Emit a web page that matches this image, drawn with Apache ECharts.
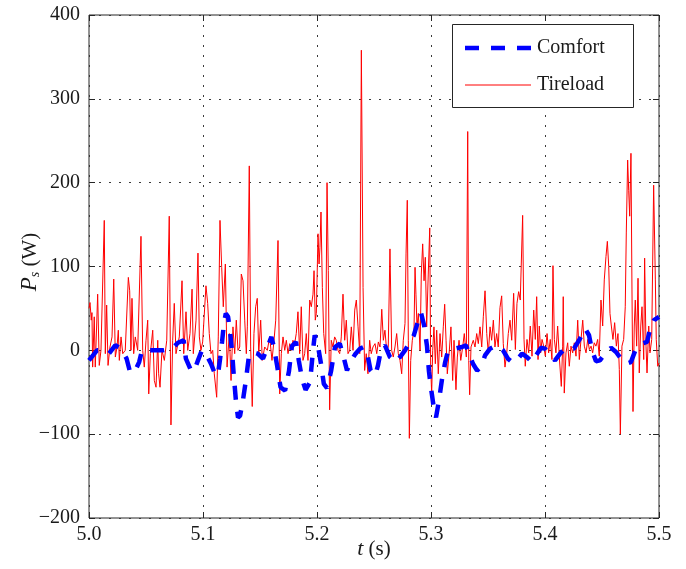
<!DOCTYPE html>
<html>
<head>
<meta charset="utf-8">
<script src="https://cdn.jsdelivr.net/npm/echarts@6/dist/echarts.min.js"></script>
<style>
  html, body { margin: 0; padding: 0; background: #fff; }
  #chart { width: 686px; height: 569px; }
</style>
</head>
<body>
<div id="chart"></div>
<script>
// Time origin of the window (s); sample times below are offsets in ms.
const tStart = 5.0;

// Comfort-oriented controller: suspension power P_s (W)
const comfortMs = [0, 7, 12, 17.5, 23, 28, 33, 36, 40, 44, 46.5, 65, 73, 78, 83, 85, 89.5, 92, 95.6, 99,
  102.6, 107, 110.5, 113, 115, 116.7, 118.4, 120, 122, 123.7, 125.4, 127, 129, 130.7, 132.5, 135, 137.7, 140, 143, 148,
  152.6, 156, 160, 162, 165, 168, 172, 175.4, 178, 181.6, 184, 187, 190, 193.9, 196.5, 198, 200.9, 203.5, 206, 208.8,
  212.3, 215.8, 220, 223.7, 226.3, 229, 233.3, 237.7, 241, 244.7, 247, 251, 253.5, 256, 259.6, 264, 269.3, 272.8, 277.2, 281.6,
  285, 288.6, 291.2, 293.9, 296.5, 298.2, 300, 302.6, 304.4, 307, 309.6, 312.3, 315, 321.1, 327.2, 330.7, 333.3, 336.8, 340.4, 343.9,
  347.4, 351.8, 357.9, 363.2, 367.5, 371.9, 376.3, 379.8, 384.2, 388.6, 392.1, 396.5, 400, 404.4, 408.8, 413.2, 418.4, 425.4,
  430.7, 435.1, 438.6, 441.2, 444.7, 448.2, 452.6, 457.9, 462.3, 466.7, 471.1, 475.4, 479.8, 485.1, 489.5, 492.1, 495.6, 500];
const comfortP = [-12, 0, 0, -4, 6, 2, -10, -26, -26, -14, 0, 0, 2, 9, 12, -10, -24, -25, -12, 0,
  -4, -16, -28, -30, -10, 10, 32, 44, 40, 22, 0, -30, -62, -80, -78, -60, -35, -10, -2, -4,
  -10, 2, 16, 5, -18, -44, -48, -25, 5, 10, -12, -35, -47, -38, 0, 18, 5, -16, -40, -45,
  -25, 4, 8, -10, -24, -15, -5, 2, 4, -8, -24, -30, -18, 0, 6, -8, -14, -8, 0, 10,
  18, 35, 45, 30, 5, -25, -45, -70, -80, -60, -35, -15, 0, 2, 4, 6, -4, -16, -24, -20,
  -6, 2, 6, 0, -10, -15, -10, -4, -8, -14, -6, 3, 2, -6, -12, -4, 3, 2,
  14, 26, 18, 0, -13, -12, -4, 3, -2, -10, -16, -14, 2, 8, 10, 25, 36, 40];

// Tireload-oriented controller: suspension power P_s (W)
const tireloadMs = [0, 0.9, 2.0, 2.6, 3.2, 4.6, 5.5, 7.6, 9.0, 10.5, 13.4, 14.3, 15.5, 16.7, 18.4, 20.2, 21.7, 23.1, 24.6, 25.7,
  26.6, 28.1, 29.6, 31.8, 34.5, 35.7, 36.8, 37.7, 39.2, 40.6, 42.7, 45.6, 47.1, 48.5, 50.0, 51.5, 52.4, 53.8, 55.9, 57.3,
  58.8, 60.3, 61.1, 62.3, 64.0, 66.1, 68.2, 70.4, 71.9, 73.4, 74.8, 76.3, 79.2, 81.6, 83.1, 85.1, 86.6, 88.6, 90.4, 91.5,
  93.9, 95.6, 96.8, 98.2, 99.7, 101.1, 102.6, 104.1, 105.5, 107.0, 108.5, 109.9, 112.0, 113.4, 114.9, 116.4, 117.8, 119.6, 121.1, 123.1,
  124.6, 126.3, 127.8, 129.2, 130.7, 132.2, 133.6, 135.1, 136.6, 138.0, 138.9, 140.6, 141.8, 143.2, 144.7, 146.2, 147.6, 148.9, 150.6, 152.0,
  154.1, 156.4, 158.5, 160.5, 162.3, 163.8, 165.8, 167.3, 168.7, 170.2, 171.7, 173.1, 174.6, 176.1, 177.5, 178.9, 180.4, 181.8, 183.3, 184.8,
  186.2, 187.7, 189.2, 190.6, 192.1, 193.6, 195.0, 196.5, 197.4, 198.5, 199.4, 200.9, 201.8, 202.6, 203.5, 204.7, 205.9, 207.6, 208.8, 209.9,
  211.1, 212.5, 214.0, 215.5, 216.9, 218.4, 219.9, 221.3, 222.8, 224.3, 225.7, 227.2, 228.7, 230.1, 231.6, 233.1, 234.5, 236.0, 237.5, 238.9,
  240.4, 241.8, 243.2, 244.7, 246.2, 247.6, 249.1, 250.9, 252.4, 253.8, 255.3, 256.8, 258.2, 259.6, 261.1, 262.5, 264.0, 265.5, 266.9, 268.4,
  269.9, 271.3, 272.8, 274.3, 275.7, 277.2, 278.1, 279.2, 280.1, 281.0, 282.2, 283.6, 285.1, 286.0, 286.8, 287.7, 288.9, 290.4, 291.5, 292.7,
  293.9, 295.0, 296.2, 297.6, 298.9, 299.7, 300.6, 301.5, 302.6, 303.8, 305.0, 306.4, 307.9, 309.4, 310.8, 312.0, 313.2, 314.3, 316.1, 317.5,
  319.0, 320.2, 321.9, 323.1, 324.6, 326.1, 327.8, 329.2, 331.0, 332.2, 333.1, 333.9, 335.1, 337.1, 338.6, 340.1, 341.5, 343.0, 344.5, 345.9,
  347.4, 348.9, 350.3, 351.8, 353.2, 354.7, 356.1, 357.6, 359.0, 360.5, 362.0, 363.4, 364.9, 366.4, 367.8, 369.3, 370.8, 372.5, 374.0, 375.4,
  376.9, 378.3, 380.4, 381.6, 382.7, 384.2, 385.7, 387.1, 388.6, 390.1, 391.5, 392.7, 393.9, 395.0, 396.2, 397.4, 398.9, 400.3, 401.8, 403.2,
  404.6, 406.1, 407.0, 408.2, 409.6, 411.1, 412.5, 414.3, 415.5, 416.0, 416.9, 418.4, 419.9, 421.3, 422.8, 424.3, 425.7, 427.2, 428.7, 430.1,
  431.6, 433.1, 434.5, 436.0, 437.5, 438.9, 440.4, 441.8, 443.2, 444.7, 446.2, 447.6, 449.1, 450.6, 452.0, 453.5, 454.7, 455.9, 457.0, 458.2,
  459.6, 461.1, 462.6, 464.0, 465.2, 466.1, 467.5, 469.0, 470.4, 471.3, 472.5, 473.4, 474.3, 475.4, 476.3, 477.2, 478.3, 479.2, 480.4, 481.6,
  482.7, 484.0, 485.1, 486.6, 487.4, 488.6, 489.5, 491.0, 492.1, 493.6, 495.3, 496.8, 497.6, 498.9, 500.0];
const tireloadP = [50, 57, 36, 45, -20, 40, -20, 67, -18, 0, 155, -4, 54, -18, 4, 16, 85, -8, 4, 24,
  -12, 16, -4, 0, 87, 71, 0, 62, -4, 16, 0, 136, 0, -20, 12, 36, -52, -4, 24, -36,
  -44, 12, -28, -44, 0, -12, 12, 160, -89, 12, 56, -4, 16, 83, -4, 46, 0, 20, 73, -4,
  36, 116, 16, 0, 10, 12, 77, 56, 20, -4, 0, -28, -56, 16, 155, 99, 52, 103, -20, 20,
  -36, 28, -4, 36, 0, 4, 91, 83, 36, -4, 28, 220, 4, -67, 20, 52, 62, -4, 36, -12,
  4, 0, 16, -12, 12, 36, 131, -52, -4, 16, 0, 12, -4, 8, 0, 12, 8, 20, 46, -4,
  52, -12, -4, 20, -12, 60, 52, 67, 95, 36, 44, 139, 103, 123, 165, 75, 20, -4, 200, 95,
  -71, 12, 4, 16, 12, 0, -4, 16, 67, 12, 36, -4, 0, 28, 0, 48, 60, 28, -4, 358,
  75, -24, -4, -28, 12, -4, 4, 8, -4, 10, 4, 49, 12, 24, 0, 4, 121, 0, -8, 4,
  20, -4, -12, -28, 12, 32, 115, 179, 12, -105, -12, 12, 24, 99, 67, 28, 44, 0, 91, 127,
  83, 111, 28, 91, 146, -20, -51, 0, 28, -16, 24, -28, 20, -8, 28, 55, 12, -28, 0, 28,
  -36, 12, -47, -8, 12, -12, 4, 20, -8, 261, -12, -53, 4, 12, 4, 20, 8, 28, 4, 40,
  71, 20, -4, 28, 12, 36, 4, 20, 4, 51, 65, 8, -20, -4, 20, 36, 12, 68, 1, 56,
  70, 60, 161, 13, -19, 13, -3, 29, -7, 48, 13, 64, -11, 29, -3, 13, 5, -7, 20, -3,
  13, -11, 101, 13, -3, 29, -7, -43, 5, 64, -51, -3, 9, -19, 5, -3, 9, -7, 36, -11,
  13, 36, 5, -3, 13, 1, 5, -3, 9, 5, 13, -7, 60, 29, 84, 112, 130, 100, 44, 29,
  13, 33, 5, 20, -23, -100, 5, 13, 52, 140, 227, 191, 160, 235, 72, -73, 29, 60, 5, 86,
  -27, 29, 52, -11, 110, 5, -27, 29, -3, 13, 197, 84, 13, -19, -15];

// Axis ranges and ticks
const tRange = [5.0, 5.5], tStep = 0.1;
const pRange = [-200, 400], pStep = 100;

// Series names shown in the legend
const seriesNames = ['Comfort', 'Tireload'];

const SERIF = '"Liberation Serif", "Times New Roman", serif';
const AXIS_COLOR = '#262626';
const TEXT_COLOR = '#1a1a1a';
const COMFORT_COLOR = '#0000ff';
const TIRELOAD_COLOR = '#ff0000';
const comfortLine = { color: COMFORT_COLOR, width: 4.5, type: [14, 12] };
const tireloadLine = { color: TIRELOAD_COLOR, width: 1 };

const comfortData = comfortMs.map((m, i) => [tStart + m / 1000, comfortP[i]]);
const tireloadData = tireloadMs.map((m, i) => [tStart + m / 1000, tireloadP[i]]);

const gridDots = { show: true, lineStyle: { color: '#3a3a3a', width: 1, type: [2, 8] } };
const innerTick = { show: true, inside: true, length: 6, lineStyle: { color: AXIS_COLOR, width: 1 } };
const tickFont = { fontFamily: SERIF, fontSize: 20, color: TEXT_COLOR };

// Boxed legend in the upper-right corner of the axes
const legendBox = { x: 452, y: 24, w: 181, h: 83 };
const legendRows = [
  { name: seriesNames[0], y: 48, line: comfortLine },
  { name: seriesNames[1], y: 85, line: tireloadLine }
];
const legendGraphics = [{
  type: 'rect', z: 100,
  shape: { x: legendBox.x + 0.5, y: legendBox.y + 0.5, width: legendBox.w, height: legendBox.h },
  style: { fill: '#fff', stroke: AXIS_COLOR, lineWidth: 1 }
}];
legendRows.forEach(row => {
  legendGraphics.push({
    type: 'line', z: 101,
    shape: { x1: legendBox.x + 13, y1: row.y, x2: legendBox.x + 79, y2: row.y },
    style: { stroke: row.line.color, lineWidth: row.line.width, lineDash: Array.isArray(row.line.type) ? row.line.type : null }
  });
  legendGraphics.push({
    type: 'text', z: 101, x: legendBox.x + 85, y: row.y,
    style: { text: row.name, font: '20px ' + SERIF, fill: TEXT_COLOR, verticalAlign: 'middle', align: 'left' }
  });
});

const chart = echarts.init(document.getElementById('chart'), null, { renderer: 'canvas' });
chart.setOption({
  animation: false,
  backgroundColor: '#fff',
  grid: { left: 89, right: 27, top: 15, bottom: 51, show: true, borderColor: AXIS_COLOR, borderWidth: 1 },
  xAxis: [
    {
      type: 'value', min: tRange[0], max: tRange[1], interval: tStep, position: 'bottom',
      axisLine: { show: false, onZero: false }, axisTick: innerTick,
      axisLabel: Object.assign({ margin: 7, formatter: v => v.toFixed(1) }, tickFont),
      splitLine: gridDots
    },
    {
      type: 'value', min: tRange[0], max: tRange[1], interval: tStep, position: 'top',
      axisLine: { show: false, onZero: false }, axisTick: innerTick,
      axisLabel: { show: false }, splitLine: { show: false }
    }
  ],
  yAxis: [
    {
      type: 'value', min: pRange[0], max: pRange[1], interval: pStep, position: 'left',
      axisLine: { show: false, onZero: false }, axisTick: innerTick,
      axisLabel: Object.assign({ margin: 9, formatter: v => (v < 0 ? '\u2212' + Math.abs(v) : String(v)) }, tickFont),
      splitLine: gridDots
    },
    {
      type: 'value', min: pRange[0], max: pRange[1], interval: pStep, position: 'right',
      axisLine: { show: false, onZero: false }, axisTick: innerTick,
      axisLabel: { show: false }, splitLine: { show: false }
    }
  ],
  graphic: legendGraphics.concat([
    {
      type: 'text', x: 374, y: 549, z: 100,
      style: {
        text: '{i|t}{n| (s)}', align: 'center', verticalAlign: 'middle',
        rich: {
          i: { fontFamily: SERIF, fontStyle: 'italic', fontSize: 22, fill: TEXT_COLOR },
          n: { fontFamily: SERIF, fontSize: 21, fill: TEXT_COLOR }
        }
      }
    },
    {
      type: 'text', x: 30, y: 262, rotation: Math.PI / 2, z: 100,
      style: {
        text: '{p|P}{s|s}{n| (W)}', align: 'center', verticalAlign: 'middle',
        rich: {
          p: { fontFamily: SERIF, fontStyle: 'italic', fontSize: 23, lineHeight: 24, fill: TEXT_COLOR, verticalAlign: 'middle' },
          s: { fontFamily: SERIF, fontStyle: 'italic', fontSize: 14, lineHeight: 14, fill: TEXT_COLOR, verticalAlign: 'bottom' },
          n: { fontFamily: SERIF, fontSize: 21, lineHeight: 24, fill: TEXT_COLOR, verticalAlign: 'middle' }
        }
      }
    }
  ]),
  series: [
    {
      name: seriesNames[1], type: 'line', data: tireloadData, symbol: 'none', z: 2,
      lineStyle: tireloadLine, itemStyle: { color: TIRELOAD_COLOR }
    },
    {
      name: seriesNames[0], type: 'line', data: comfortData, symbol: 'none', z: 3,
      lineStyle: comfortLine, itemStyle: { color: COMFORT_COLOR }
    }
  ]
});
</script>
</body>
</html>
